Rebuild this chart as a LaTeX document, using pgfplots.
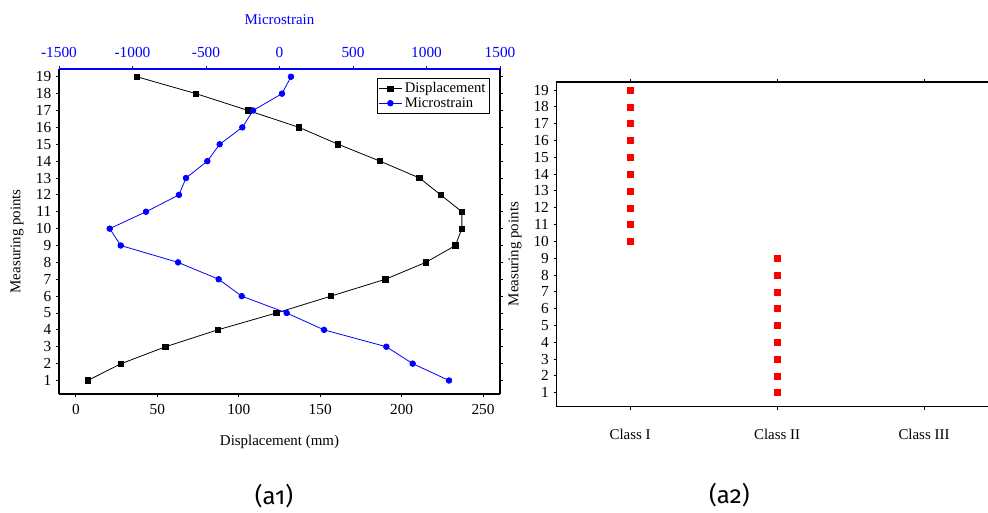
\documentclass[border=0pt]{standalone}
\usepackage{fontspec}
\setmainfont{Liberation Serif}
\newfontfamily\capfont[Numbers=OldStyle]{Fira Sans}
\usepackage{pgfplots}
\pgfplotsset{compat=1.18}
\usepackage{pgfplotstable}

\pgfplotstableread{
pt disp micro
1   7.2   1153
2   27.8  906
3   55    727
4   87    303
5   123   49
6   156.6 -257
7   190   -414
8   214.8 -690
9   233   -1080
10  237   -1155
11  237   -908
12  224   -684
13  211   -636
14  186.7 -491
15  161   -407
16  137   -253
17  105.8 -180
18  73.7  17
19  37.5  78
}\datatable

\pgfplotstableread{
cls pt
1 10
1 11
1 12
1 13
1 14
1 15
1 16
1 17
1 18
1 19
2 1
2 2
2 3
2 4
2 5
2 6
2 7
2 8
2 9
}\classtable

\definecolor{myblue}{RGB}{0,0,255}
\definecolor{myred}{RGB}{255,0,0}

\begin{document}
\begin{tikzpicture}
\pgfplotsset{
  common/.style={
    scale only axis,
    tick align=outside,
    major tick length=2.3pt,
    axis line style={line width=0.9pt},
    tick style={line width=0.7pt, black},
    ticklabel style={font=\rmfamily\fontsize{11.5}{12}\selectfont},
    label style={font=\rmfamily\fontsize{11.2}{12}\selectfont},
    /pgf/number format/assume math mode=true,
    /pgf/number format/1000 sep={},
    xticklabel={\pgfmathprintnumber[assume math mode=true]{\tick}},
    yticklabel={\pgfmathprintnumber[assume math mode=true]{\tick}},
    minor tick num=0,
    ymin=0.2, ymax=19.46,
    ytick={1,...,19},
  }
}
% ---------- left panel: displacement ----------
\begin{axis}[common,
  at={(44.25pt,88.5pt)}, anchor=south west,
  width=330.75pt, height=243.75pt,
  xmin=-10.4, xmax=260.4,
  xtick={0,50,...,250},
  axis x line*=bottom,
  axis y line*=box,
  ytick pos=both, yticklabel pos=left,
  xticklabel style={yshift=-2pt},
  xlabel={Displacement (mm)},
  ylabel={Measuring points},
  xlabel style={at={(axis description cs:0.5,-0.148)}, anchor=center},
  ylabel style={at={(axis description cs:-0.095,0.47)}, anchor=center},
]
\addplot[black, line width=0.6pt, mark=square*, mark size=2pt,
  mark options={solid}] table[x=disp, y=pt] {\datatable};
\end{axis}
% ---------- left panel: microstrain (top axis) ----------
\begin{axis}[common,
  at={(44.25pt,88.5pt)}, anchor=south west,
  width=330.75pt, height=243.75pt,
  xmin=-1500, xmax=1500,
  xtick={-1500,-1000,...,1500},
  axis x line*=top,
  axis y line=none,
  x axis line style={myblue, line width=0.9pt},
  xtick style={myblue, line width=0.7pt},
  xticklabel style={myblue, yshift=3pt},
  xlabel={Microstrain},
  xlabel style={myblue, at={(axis description cs:0.5,1.151)}, anchor=center},
  legend style={at={(0.977,0.972)}, anchor=north east, draw=black,
    line width=0.6pt, font=\rmfamily\fontsize{11}{11}\selectfont,
    inner sep=1pt, row sep=-2pt, cells={anchor=west}},
  legend image post style={line width=0.6pt},
]
\addlegendimage{black, mark=square*, mark size=2pt}
\addlegendentry{Displacement}
\addplot[myblue, line width=0.6pt, mark=*, mark size=2.1pt]
  table[x=micro, y=pt] {\datatable};
\addlegendentry{Microstrain}
\end{axis}
% ---------- right panel ----------
\begin{axis}[common,
  at={(417.5pt,79pt)}, anchor=south west,
  width=330.6pt, height=243.5pt,
  ymin=0.17, ymax=19.48,
  xmin=0.5, xmax=3.5,
  xtick={1,2,3},
  xticklabels={Class I, Class II, Class III},
  xticklabel style={font=\rmfamily\fontsize{11.2}{12}\selectfont, yshift=-11pt},
  xtick pos=both, xticklabel pos=bottom,
  ytick pos=left,
  ylabel={Measuring points},
  ylabel style={at={(axis description cs:-0.0946,0.47)}, anchor=center},
]
\addplot[only marks, myred, mark=square*, mark size=2.25pt]
  table[x=cls, y=pt] {\classtable};
\end{axis}
\node[font=\capfont\fontsize{18}{20}\selectfont] at (205.5pt,12pt) {(a1)};
\node[font=\capfont\fontsize{18}{20}\selectfont] at (547pt,13pt) {(a2)};
\pgfresetboundingbox
\useasboundingbox (0,0) rectangle (741pt,384pt);
\end{tikzpicture}
\end{document}
